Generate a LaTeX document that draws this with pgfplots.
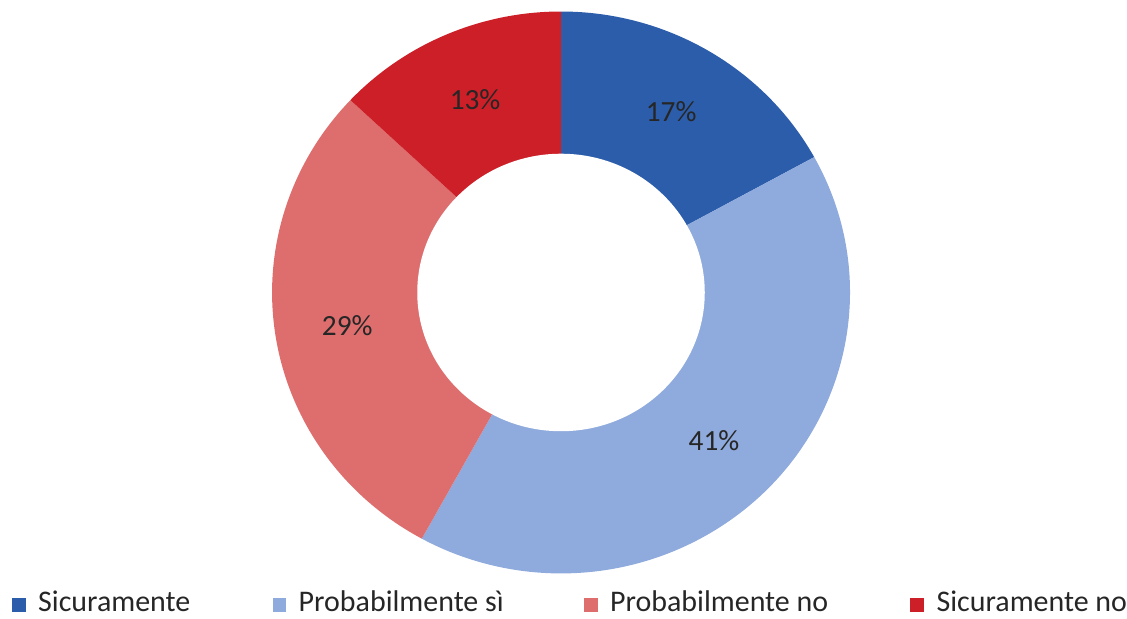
\documentclass[border=0pt]{standalone}
\usepackage{pgfplots}
\pgfplotsset{compat=1.18}
\usepackage{pgfplotstable}
\usetikzlibrary{calc}
\usepackage{fontspec}
\setmainfont{Carlito}
\definecolor{col0}{HTML}{2C5DAB}
\definecolor{col1}{HTML}{8FAADC}
\definecolor{col2}{HTML}{DE6E6E}
\definecolor{col3}{HTML}{CC1F27}
\definecolor{txt}{HTML}{262626}
\pgfplotstableread{
value
17
41
29
13
}\piedata
\newcommand\legitem[3]{%
  \fill[#2] (axis cs:#1,7) rectangle (axis cs:#1+14,21);
  \node[anchor=base west, inner sep=0pt, text=txt, font=\fontsize{22.5}{26}\selectfont] at (axis cs:#1+26,7) {#3};}
\begin{document}
\begin{tikzpicture}
\begin{axis}[
  scale only axis, width=845.25pt, height=465pt,
  xmin=0, xmax=1127, ymin=0, ymax=620,
  hide axis, clip=false]
\path (axis cs:0,0) rectangle (axis cs:1127,620);
\xdef\cumA{90}
\pgfplotsforeachungrouped \i in {0,...,3}{%
  \pgfplotstablegetelem{\i}{value}\of\piedata
  \let\valA\pgfplotsretval
  \pgfmathsetmacro\stA{\cumA}%
  \pgfmathsetmacro\enA{\cumA-3.6*\valA}%
  \pgfmathsetmacro\miA{(\stA+\enA)/2}%
  \edef\tmpA{\noexpand\fill[col\i] (axis cs:562,327) -- ++(\stA:217.1pt and 211.1pt) arc[start angle=\stA, end angle=\enA, x radius=217.1pt, y radius=211.1pt] -- cycle;
    \noexpand\node[text=txt, font=\noexpand\fontsize{22}{26}\noexpand\selectfont] at ($(axis cs:562,327)+(\miA:162.6pt and 157.5pt)$) {\valA\noexpand\%};}%
  \tmpA
  \xdef\cumA{\enA}%
}
\fill[white] (axis cs:562,327) ellipse[x radius=108pt, y radius=104.25pt];
\legitem{12}{col0}{Sicuramente}
\legitem{273}{col1}{Probabilmente sì}
\legitem{585}{col2}{Probabilmente no}
\legitem{912}{col3}{Sicuramente no}
\end{axis}
\end{tikzpicture}
\end{document}
